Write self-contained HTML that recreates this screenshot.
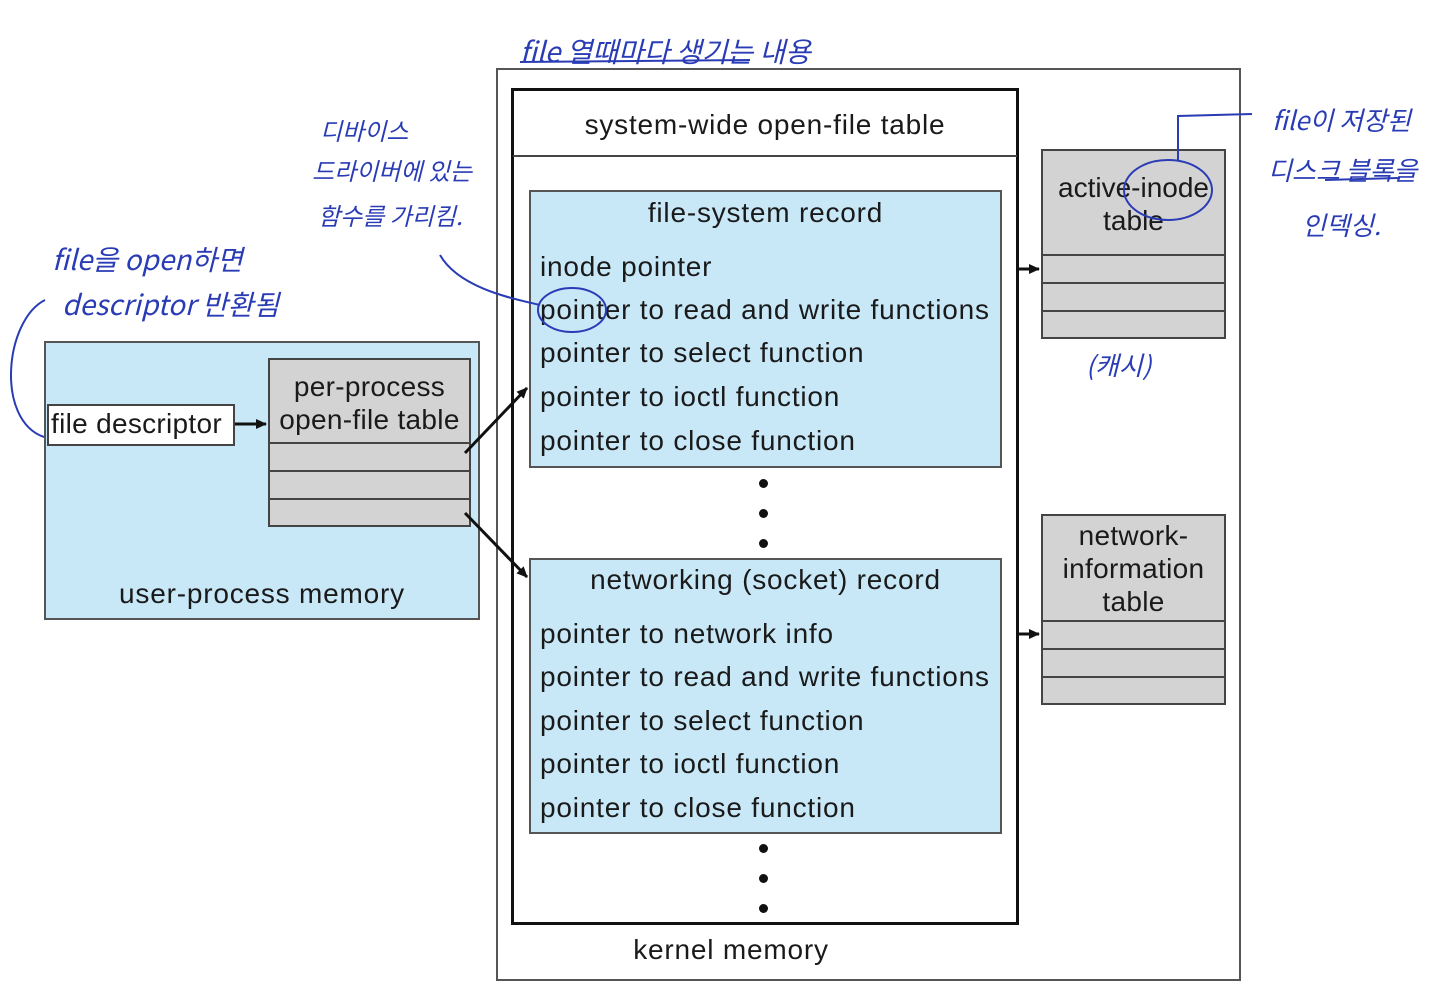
<!DOCTYPE html>
<html><head><meta charset="utf-8"><style>
body{margin:0;width:1430px;height:1000px;background:#fff;position:relative;overflow:hidden;font-family:"Liberation Sans","Noto Sans CJK KR",sans-serif;color:#1a1a1a}
.a{position:absolute;box-sizing:border-box}
.t{position:absolute;font-size:28px;letter-spacing:0.8px;white-space:nowrap;line-height:1}
.c{text-align:center}
.blue{background:#c8e8f8;border:2px solid #555}
.gray{background:#d3d3d3;border:2px solid #444}
.row{position:absolute;left:0;right:0;border-top:2px solid #444}
.dot{position:absolute;width:9px;height:9px;border-radius:50%;background:#111}
</style></head><body>
<div class="a" style="left:496px;top:68px;width:745px;height:913px;border:2px solid #555"></div>
<div class="a" style="left:511px;top:88px;width:508px;height:837px;border:3px solid #111"></div>
<div class="a" style="left:513px;top:155px;width:504px;height:2px;background:#444"></div>
<div class="t c" style="left:511px;width:508px;top:111px">system-wide open-file table</div>

<div class="a blue" style="left:529px;top:190px;width:473px;height:278px"></div>
<div class="t c" style="left:529px;width:473px;top:199px">file-system record</div>
<div class="t" style="left:540px;top:253px">inode pointer</div>
<div class="t" style="left:540px;top:296px">pointer to read and write functions</div>
<div class="t" style="left:540px;top:339px">pointer to select function</div>
<div class="t" style="left:540px;top:383px">pointer to ioctl function</div>
<div class="t" style="left:540px;top:427px">pointer to close function</div>
<div class="dot" style="left:759px;top:479px"></div>
<div class="dot" style="left:759px;top:509px"></div>
<div class="dot" style="left:759px;top:539px"></div>

<div class="a blue" style="left:529px;top:558px;width:473px;height:276px"></div>
<div class="t c" style="left:529px;width:473px;top:566px">networking (socket) record</div>
<div class="t" style="left:540px;top:620px">pointer to network info</div>
<div class="t" style="left:540px;top:663px">pointer to read and write functions</div>
<div class="t" style="left:540px;top:707px">pointer to select function</div>
<div class="t" style="left:540px;top:750px">pointer to ioctl function</div>
<div class="t" style="left:540px;top:794px">pointer to close function</div>
<div class="dot" style="left:759px;top:844px"></div>
<div class="dot" style="left:759px;top:874px"></div>
<div class="dot" style="left:759px;top:904px"></div>
<div class="t c" style="left:496px;width:470px;top:936px">kernel memory</div>

<div class="a gray" style="left:1041px;top:149px;width:185px;height:190px">
<div class="row" style="top:103px"></div><div class="row" style="top:131px"></div><div class="row" style="top:159px"></div></div>
<div class="t c" style="left:1036px;width:195px;top:171px;line-height:33px;letter-spacing:0">active-inode<br>table</div>

<div class="a gray" style="left:1041px;top:514px;width:185px;height:191px">
<div class="row" style="top:104px"></div><div class="row" style="top:132px"></div><div class="row" style="top:160px"></div></div>
<div class="t c" style="left:1036px;width:195px;top:519px;line-height:33px;letter-spacing:0.3px">network-<br>information<br>table</div>

<div class="a" style="left:44px;top:341px;width:436px;height:279px;background:#c8e8f8;border:2px solid #555"></div>
<div class="t c" style="left:44px;width:436px;top:580px">user-process memory</div>
<div class="a" style="left:47px;top:404px;width:188px;height:42px;background:#fff;border:2px solid #444"></div>
<div class="t" style="left:51px;top:410px;letter-spacing:0.3px">file descriptor</div>
<div class="a gray" style="left:268px;top:358px;width:203px;height:169px">
<div class="row" style="top:82px"></div><div class="row" style="top:110px"></div><div class="row" style="top:138px"></div></div>
<div class="t c" style="left:263px;width:213px;top:370px;line-height:33px;letter-spacing:0.3px">per-process<br>open-file table</div>

<svg class="a" style="left:0;top:0" width="1430" height="1000">
<defs><marker id="ar" markerWidth="11" markerHeight="10" refX="10" refY="5" orient="auto" markerUnits="userSpaceOnUse"><path d="M0,0L11,5L0,10z" fill="#111"/></marker></defs>
<g stroke="#111" stroke-width="3" fill="none">
<line x1="235" y1="424" x2="266" y2="424" marker-end="url(#ar)"/>
<line x1="465" y1="453" x2="527" y2="388" marker-end="url(#ar)"/>
<line x1="465" y1="513" x2="527" y2="577" marker-end="url(#ar)"/>
<line x1="1019" y1="269" x2="1039" y2="269" marker-end="url(#ar)"/>
<line x1="1019" y1="634" x2="1039" y2="634" marker-end="url(#ar)"/>
</g>
<g stroke="#2a3cb5" stroke-width="2" fill="none">
<path d="M45,300 C5,320 -5,420 44,437"/>
<path d="M440,255 C460,290 520,300 540,305"/>
<ellipse cx="572" cy="310" rx="34" ry="22"/>
<ellipse cx="1168" cy="190" rx="44" ry="30"/>
<path d="M1178,160 L1178,116 L1252,114"/>
<path d="M520,62 L750,60"/>
<path d="M1325,180 L1400,178"/>
</g>
<g fill="#2a3cb5" font-family="Noto Sans CJK KR,sans-serif" font-size="28" font-style="italic">
<text x="520" y="62">file 열때마다 생기는 내용</text>
<text x="320" y="140" font-size="24">디바이스</text>
<text x="312" y="180" font-size="24">드라이버에 있는</text>
<text x="318" y="225" font-size="24">함수를 가리킴.</text>
<text x="52" y="270">file을 open하면</text>
<text x="62" y="315">descriptor 반환됨</text>
<text x="1272" y="130" font-size="26">file이 저장된</text>
<text x="1268" y="180" font-size="26">디스크 블록을</text>
<text x="1302" y="235" font-size="26">인덱싱.</text>
<text x="1086" y="375" font-size="26">(캐시)</text>
</g>
</svg>
</body></html>
